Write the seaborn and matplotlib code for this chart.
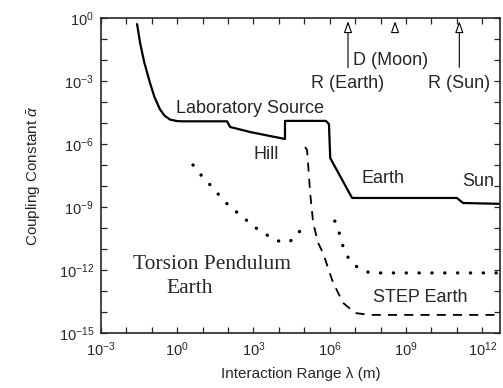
import numpy as np
import pandas as pd
import seaborn as sns
import matplotlib.pyplot as plt
from matplotlib.ticker import NullFormatter

# ---------------------------------------------------------------------------
# values read off the picture, as log10 of the real numbers
lab_log_x = [-1.58, -1.46, -1.3, -1.07, -0.9, -0.68, -0.5, -0.28, 0.0, 0.2, 1.96, 2.08,
             2.87, 3.65, 4.24, 4.24, 4.35, 5.85, 5.97, 6.02, 6.88, 11.0, 11.25, 12.7]
lab_log_y = [-0.29, -1.2, -2.1, -3.1, -3.75, -4.35, -4.65, -4.84, -4.91, -4.92, -4.92, -5.19,
             -5.43, -5.62, -5.76, -4.9, -4.9, -4.9, -5.05, -6.67, -8.57, -8.57, -8.81, -8.85]

step_log_x = [5.03, 5.11, 5.23, 5.35, 5.54, 5.74, 6.13, 6.53, 7.0, 7.59, 12.7]
step_log_y = [-6.14, -6.29, -8.33, -9.76, -10.7, -11.2, -12.6, -13.57, -14.05, -14.14, -14.14]

torsion_a_log_x = [0.62, 0.9, 1.37, 1.88, 2.47, 3.1, 3.77, 4.17, 4.56, 4.83, 5.0]
torsion_a_log_y = [-7.0, -7.43, -8.05, -8.76, -9.38, -10.0, -10.52, -10.7, -10.57, -10.14, -9.67]

torsion_b_log_x = [6.2, 6.4, 6.53, 6.76, 7.16, 7.6, 12.7]
torsion_b_log_y = [-9.67, -10.33, -10.9, -11.5, -11.95, -12.14, -12.14]

# reference length scales marked with arrows at the top (log10 metres)
scale_names = ["R (Earth)", "D (Moon)", "R (Sun)"]
scale_log_x = [6.72, 8.57, 11.1]

major_exp_x = [-3, 0, 3, 6, 9, 12]
major_exp_y = [0, -3, -6, -9, -12, -15]

# ---------------------------------------------------------------------------

def to_frame(log_x, log_y):
    return pd.DataFrame({"x": 10.0 ** np.array(log_x), "y": 10.0 ** np.array(log_y)})


sns.set_style("ticks")
plt.rcParams["font.family"] = ["Liberation Sans", "DejaVu Sans"]
plt.rcParams["mathtext.fontset"] = "custom"
plt.rcParams["mathtext.rm"] = "Liberation Sans"
plt.rcParams["mathtext.it"] = "Liberation Sans:italic"

fig = plt.figure(figsize=(5.03, 3.88), dpi=100)
ax = fig.add_axes([0.2008, 0.1418, 0.7932, 0.8118])

line_kw = dict(x="x", y="y", ax=ax, sort=False, estimator=None, color="black")
sns.lineplot(data=to_frame(lab_log_x, lab_log_y), linewidth=1.6, **line_kw)
sns.lineplot(data=to_frame(step_log_x, step_log_y), linewidth=1.3,
             linestyle=(0, (5, 4)), **line_kw)
for lx, ly in [(torsion_a_log_x, torsion_a_log_y), (torsion_b_log_x, torsion_b_log_y)]:
    sns.lineplot(data=to_frame(lx, ly), linewidth=2.4, linestyle=(0, (0.05, 3.8)),
                 dash_capstyle="round", **line_kw)

ax.set_xscale("log")
ax.set_yscale("log")
ax.set_xlim(1e-3, 10 ** 12.7)
ax.set_ylim(1e-15, 1)

ax.set_xticks([10.0 ** e for e in major_exp_x])
ax.set_xticklabels([f"$10^{{{e}}}$" for e in major_exp_x])
ax.set_yticks([10.0 ** e for e in major_exp_y])
ax.set_yticklabels([f"$10^{{{e}}}$" for e in major_exp_y])
ax.set_xticks([10.0 ** e for e in range(-3, 13)], minor=True)
ax.set_yticks([10.0 ** e for e in range(-15, 1)], minor=True)
ax.xaxis.set_minor_formatter(NullFormatter())
ax.yaxis.set_minor_formatter(NullFormatter())
ax.tick_params(which="both", direction="in", top=True, right=True,
               length=4, width=0.9, labelsize=10.5, pad=5)
for s in ax.spines.values():
    s.set_linewidth(1.2)

ax.set_xlabel("Interaction Range λ (m)", fontsize=11, labelpad=6)
ax.set_ylabel(r"Coupling Constant $\bar{\alpha}$", fontsize=11, labelpad=12)

# arrows for the reference scales
arrow_base = [-2.5, -0.57, -2.48]
for name, lx, base in zip(scale_names, scale_log_x, arrow_base):
    ax.annotate("", xy=(10 ** lx, 10 ** -0.02), xytext=(10 ** lx, 10 ** base),
                arrowprops=dict(arrowstyle="-|>,head_width=0.25,head_length=0.7",
                                fc="white", ec="black", lw=0.8))

txt = dict(ha="center", va="center", fontsize=13)
ax.text(10 ** 6.69, 10 ** -3.1, "R (Earth)", **txt)
ax.text(10 ** 8.38, 10 ** -2.0, "D (Moon)", **txt)
ax.text(10 ** 11.1, 10 ** -3.1, "R (Sun)", **txt)
ax.text(10 ** 2.87, 10 ** -4.29, "Laboratory Source", **txt)
ax.text(10 ** 3.5, 10 ** -6.52, "Hill", **txt)
ax.text(10 ** 8.1, 10 ** -7.62, "Earth", **txt)
ax.text(10 ** 11.84, 10 ** -7.8, "Sun", **txt)
ax.text(10 ** 9.56, 10 ** -13.33, "STEP Earth", **txt)
serif = dict(ha="center", va="center", fontsize=15.5, family="Liberation Serif")
ax.text(10 ** 1.37, 10 ** -11.76, "Torsion Pendulum", **serif)
ax.text(10 ** 0.5, 10 ** -12.86, "Earth", **serif)

fig.savefig("out.png", dpi=100)
